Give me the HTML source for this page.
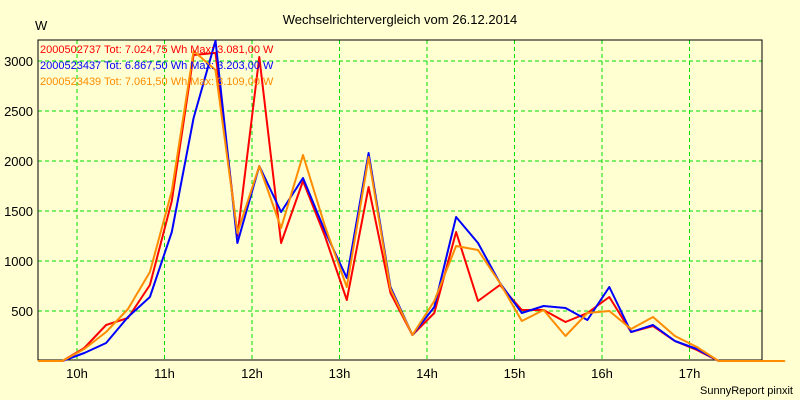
<!DOCTYPE html>
<html><head><meta charset="utf-8"><style>
body{margin:0;background:#ffffd2;}
svg{display:block;font-family:"Liberation Sans",sans-serif;}
</style></head><body>
<svg width="800" height="400">
<rect x="0" y="0" width="800" height="400" fill="#ffffd2"/>
<text x="400" y="24" text-anchor="middle" font-size="13" fill="#000">Wechselrichtervergleich vom 26.12.2014</text>
<text x="35" y="30" font-size="13" fill="#000">W</text>
<text x="793" y="394" text-anchor="end" font-size="11" fill="#000">SunnyReport pinxit</text>
<g id="grid"></g><g id="axes"></g><g id="series"></g>
<g font-size="11">
<text x="40" y="53" fill="#ff0000">2000502737 Tot: 7.024,75 Wh Max: 3.081,00 W</text>
<text x="40" y="69" fill="#0000ff">2000523437 Tot: 6.867,50 Wh Max: 3.203,00 W</text>
<text x="40" y="85" fill="#ff8c00">2000523439 Tot: 7.061,50 Wh Max: 3.109,00 W</text>
</g>
</svg>
<script>
const hourTicks=[10,11,12,13,14,15,16,17];
const yTicks=[500,1000,1500,2000,2500,3000];
const startHour=9.833;
const stepHour=0.25;
const redValues=[0,130,360,430,760,1600,3060,3081,1250,3040,1180,1800,1250,610,1740,680,260,480,1290,600,760,510,510,390,480,640,290,350,200,110,0,0,0];
const blueValues=[0,80,180,440,640,1290,2430,3203,1180,1950,1490,1830,1300,830,2080,740,260,540,1440,1180,780,480,550,530,410,740,290,360,200,120,0,0,0];
const orangeValues=[0,120,290,520,890,1700,3100,2910,1280,1950,1330,2060,1350,740,2040,720,260,600,1150,1110,780,400,510,250,480,500,320,440,250,140,0,0,0,0];
const X0=38,X1=762,Y0=360,Y1=40;
function xH(h){return 77+(h-10)*87.5;}
function yV(v){return 361-v*0.1;}
const ns='http://www.w3.org/2000/svg';
function mk(tag,attrs,parent){const e=document.createElementNS(ns,tag);for(const k in attrs)e.setAttribute(k,attrs[k]);parent.appendChild(e);return e;}
const grid=document.getElementById('grid'),axes=document.getElementById('axes'),ser=document.getElementById('series');
mk('rect',{x:X0,y:Y1,width:X1-X0,height:Y0-Y1,fill:'none',stroke:'#000','stroke-width':1},axes);
hourTicks.forEach(h=>{
 const l=mk('line',{x1:xH(h),x2:xH(h),y1:Y1,y2:Y0,stroke:'#00dd00','stroke-dasharray':'4,3'},grid);
 
 
 const t=mk('text',{x:xH(h),y:378,'text-anchor':'middle','font-size':13,fill:'#000'},axes);
 t.textContent=h+'h';
 
 
});
yTicks.forEach(v=>{
 const l=mk('line',{x1:X0,x2:X1,y1:yV(v),y2:yV(v),stroke:'#00dd00','stroke-dasharray':'4,3'},grid);
 
 
 const t=mk('text',{x:33,y:yV(v)+5,'text-anchor':'end','font-size':13,fill:'#000'},axes);
 t.textContent=v;
 
 
});
function draw(vals,color,name){
 const pts=vals.map((v,i)=>xH(startHour+i*stepHour).toFixed(1)+','+yV(v).toFixed(1));
 pts.unshift(X0+','+yV(0));
 if(name==='orange-series')pts.push(X1+','+yV(0));
 const p=mk('polyline',{points:pts.join(' '),fill:'none',stroke:color,'stroke-width':2,'stroke-linejoin':'round'},ser);
 
 
}
draw(redValues,'#ff0000','red-series');
draw(blueValues,'#0000ff','blue-series');
draw(orangeValues,'#ff8c00','orange-series');
</script>
</body></html>
